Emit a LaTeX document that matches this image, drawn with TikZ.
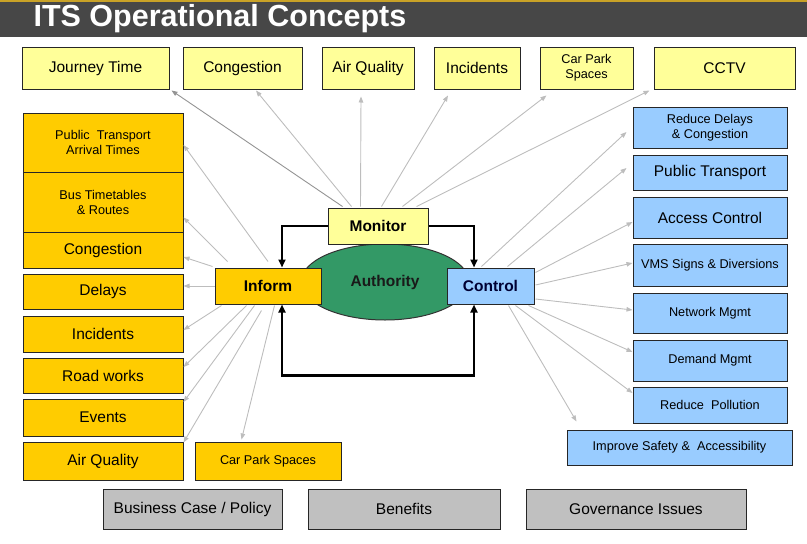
\documentclass[tikz,border=0pt]{standalone}
\usepackage{fontspec}
\setmainfont{Liberation Sans}
\usetikzlibrary{arrows.meta,shapes.geometric}
\definecolor{bar}{HTML}{474747}
\definecolor{barline}{HTML}{C9A227}
\definecolor{paleyellow}{HTML}{FFFF99}
\definecolor{gold}{HTML}{FFCC00}
\definecolor{skyblue}{HTML}{99CCFF}
\definecolor{silver}{HTML}{C0C0C0}
\definecolor{authgreen}{HTML}{339966}
\definecolor{link}{HTML}{BDBDBD}
\definecolor{navy}{HTML}{000033}
\tikzset{
  box/.style={draw=black!85, line width=1pt, inner sep=2pt, align=center, font=\fontsize{15.5}{18}\selectfont},
  smalltxt/.style={font=\fontsize{12.7}{15}\selectfont},
  monbox/.style={box, fill=paleyellow},
  infbox/.style={box, fill=gold},
  ctlbox/.style={box, fill=skyblue},
  polbox/.style={box, fill=silver},
  hub/.style={font=\bfseries\fontsize{15.5}{18}\selectfont},
  feed/.style={draw=link, line width=0.9pt, -{Triangle[length=6pt,width=4.5pt]}},
  loopline/.style={draw=black, line width=2.2pt, -{Triangle[length=8pt,width=7pt]}}
}

\begin{document}
\begin{tikzpicture}[x=1pt,y=-1pt]
  \useasboundingbox (0,0) rectangle (807,544);

  % title bar
  \fill[bar] (0,0) rectangle (807,37);
  \fill[barline] (0,0) rectangle (807,1.5);
  \node[anchor=west, text=white, font=\bfseries\fontsize{30.5}{34}\selectfont] (title) at (30,19) {ITS Operational Concepts};

  % what is monitored
  \node[monbox, minimum width=147pt, minimum height=42pt] (jt) at (95.5,68) {Journey Time};
  \node[monbox, minimum width=119pt, minimum height=42pt] (tcong) at (242.5,68) {Congestion};
  \node[monbox, minimum width=92pt, minimum height=42pt] (tair) at (368,68) {Air Quality};
  \node[monbox, minimum width=86pt, minimum height=42pt] (tinc) at (477,68) {Incidents};
  \node[monbox, smalltxt, minimum width=93pt, minimum height=42pt] (tcar) at (586.5,68) {Car Park\\Spaces};
  \node[monbox, minimum width=141pt, minimum height=42pt] (cctv) at (724.5,68) {CCTV};

  % authority and the loop
  \node[ellipse, draw=black!80, line width=1pt, fill=authgreen, minimum width=168pt, minimum height=76pt, hub, text=black!90] (auth) at (385,282) {Authority};
  \node[monbox, hub, minimum width=100pt, minimum height=36pt] (monitor) at (378,226) {Monitor};
  \node[infbox, hub, minimum width=106pt, minimum height=36pt] (inform) at (268,286) {Inform};
  \node[ctlbox, hub, text=navy, minimum width=87pt, minimum height=36pt] (control) at (490.5,286) {Control};

  \draw[loopline] (monitor.west) -| ([xshift=14pt]inform.north);
  \draw[loopline] (monitor.east) -| ([xshift=-16.5pt]control.north);
  \draw[loopline, {Triangle[length=8pt,width=7pt]}-{Triangle[length=8pt,width=7pt]}]
    ([xshift=14pt]inform.south) -- ++(0,71) -| ([xshift=-16.5pt]control.south);

  % what is informed
  \node[infbox, smalltxt, minimum width=160pt, minimum height=59pt] (lpt) at (103,142.5) {Public\ \ Transport\\Arrival Times};
  \node[infbox, smalltxt, minimum width=160pt, minimum height=60pt] (lbus) at (103,202) {Bus Timetables\\ \& Routes};
  \node[infbox, minimum width=160pt, minimum height=36pt] (lcong) at (103,250) {Congestion};
  \node[infbox, minimum width=160pt, minimum height=35pt] (ldel) at (103,291.5) {Delays};
  \node[infbox, minimum width=160pt, minimum height=36pt] (linc) at (103,334) {Incidents};
  \node[infbox, minimum width=160pt, minimum height=35pt] (lroad) at (103,375.5) {Road works};
  \node[infbox, minimum width=160pt, minimum height=37pt] (levt) at (103,417.5) {Events};
  \node[infbox, minimum width=160pt, minimum height=38pt] (lair) at (103,461) {Air Quality};
  \node[infbox, smalltxt, minimum width=146pt, minimum height=38pt] (lcar) at (268,461) {Car Park Spaces};

  % what is controlled
  \node[ctlbox, smalltxt, minimum width=154pt, minimum height=41pt] (rdel) at (710,127.5) {Reduce Delays\\ \& Congestion};
  \node[ctlbox, minimum width=154pt, minimum height=35pt] (rpt) at (710,172.5) {Public Transport};
  \node[ctlbox, minimum width=154pt, minimum height=41pt] (racc) at (710,217.5) {Access Control};
  \node[ctlbox, smalltxt, minimum width=154pt, minimum height=42pt] (rvms) at (710,265) {VMS Signs \& Diversions};
  \node[ctlbox, smalltxt, minimum width=154pt, minimum height=40pt] (rnet) at (710,313) {Network Mgmt};
  \node[ctlbox, smalltxt, minimum width=154pt, minimum height=41pt] (rdem) at (710,360.5) {Demand Mgmt};
  \node[ctlbox, smalltxt, minimum width=154pt, minimum height=36pt] (rpol) at (710,405) {Reduce\ \ Pollution};
  \node[ctlbox, smalltxt, minimum width=225pt, minimum height=35pt] (rsafe) at (679.5,447.5) {Improve Safety \&\ \ Accessibility};

  % policy row
  \node[polbox, minimum width=179pt, minimum height=40pt] (bcase) at (192.5,509) {Business Case / Policy};
  \node[polbox, minimum width=192pt, minimum height=40pt] (bben) at (404,509) {Benefits};
  \node[polbox, minimum width=220pt, minimum height=40pt] (bgov) at (636,509) {Governance Issues};

  % monitor feeds
  \draw[feed, draw=black!42] ([shift={(15,-1)}]monitor.north west) -- ([shift={(2,1)}]jt.south east);
  \draw[feed] ([shift={(24,-1)}]monitor.north west) -- ([shift={(13.5,1)}]tcong.south);
  \draw[feed] ([shift={(33,-1)}]monitor.north west) -- ([shift={(-7,7)}]tair.south);
  \draw[feed] ([shift={(54,-1)}]monitor.north west) -- ([shift={(-29,6)}]tinc.south);
  \draw[feed] ([shift={(75,-1)}]monitor.north west) -- ([shift={(7,6)}]tcar.south west);
  \draw[feed] ([shift={(89,-1)}]monitor.north west) -- ([shift={(-4,1)}]cctv.south west);

  % inform feeds
  \draw[feed] ([shift={(0,-6)}]inform.north) -- ([shift={(0,2.5)}]lpt.east);
  \draw[feed] ([shift={(13,-6)}]inform.north west) -- ([shift={(0,-15)}]lbus.south east);
  \draw[feed] ([shift={(-2,-1)}]inform.north west) -- ([shift={(0,7)}]lcong.east);
  \draw[feed] (inform.west) -- (inform.west -| ldel.east);
  \draw[feed] ([shift={(7,1)}]inform.south west) -- ([shift={(0,-4)}]linc.east);
  \draw[feed] ([shift={(32,1)}]inform.south west) -- ([shift={(0,-8.5)}]lroad.east);
  \draw[feed] ([shift={(40,1)}]inform.south west) -- ([shift={(0,-15.5)}]levt.east);
  \draw[feed] ([shift={(47,6)}]inform.south west) -- ([shift={(0,1)}]lair.north east);
  \draw[feed] ([shift={(60,1)}]inform.south west) -- ([shift={(47,-2)}]lcar.north west);

  % control feeds
  \draw[feed] ([shift={(35,-1)}]control.north west) -- ([shift={(-6,4.5)}]rdel.west);
  \draw[feed] ([shift={(61,-1)}]control.north west) -- ([shift={(-6,-4.5)}]rpt.west);
  \draw[feed] ([shift={(1,5)}]control.north east) -- ([shift={(0,4.5)}]racc.west);
  \draw[feed] ([shift={(1,-1)}]control.east) -- ([shift={(0,-2)}]rvms.west);
  \draw[feed] ([shift={(1,13)}]control.east) -- ([shift={(0,-3)}]rnet.west);
  \draw[feed] ([shift={(-6,1)}]control.south east) -- ([shift={(0,-8.5)}]rdem.west);
  \draw[feed] ([shift={(-19,1)}]control.south east) -- ([shift={(0,-12)}]rpol.west);
  \draw[feed] ([shift={(-26,1)}]control.south east) -- ([shift={(10,-8)}]rsafe.north west);
\end{tikzpicture}
\end{document}
